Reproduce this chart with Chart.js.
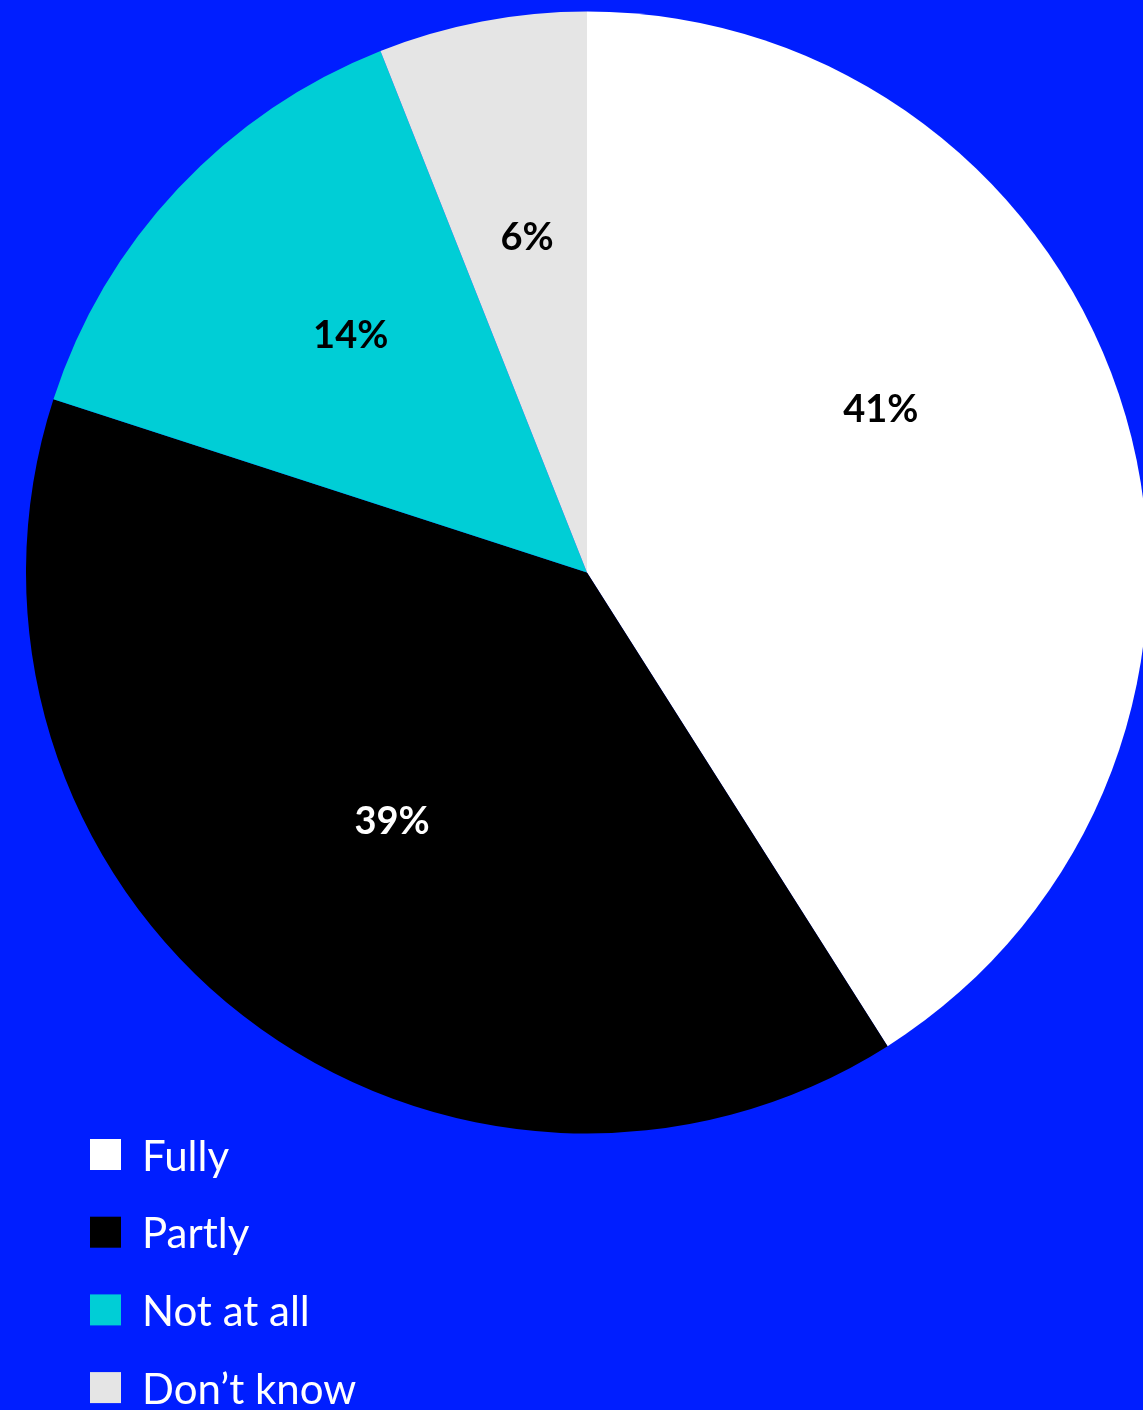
<!DOCTYPE html>
<html>
<head>
<meta charset="utf-8">
<script src="https://cdn.jsdelivr.net/npm/chart.js@4"></script>
<style>
  html, body { margin: 0; padding: 0; background: #001EFF; overflow: hidden; }
  canvas { display: block; }
</style>
</head>
<body>
<canvas id="pieChart" width="1160" height="1410"></canvas>
<script>
const labels = ["Fully", "Partly", "Not at all", "Don\u2019t know"];
const values = [41, 39, 14, 6];
const colors = ["#FFFFFF", "#000000", "#00CED6", "#E5E5E5"];
const labelColors = ["#000000", "#FFFFFF", "#000000", "#000000"];

// percent labels inside the slices
const sliceLabels = {
  id: "sliceLabels",
  afterDatasetsDraw(chart) {
    const ctx = chart.ctx;
    const meta = chart.getDatasetMeta(0);
    // small nudges so the labels sit where the original put them
    const nudge = [[-24, -70], [8, -12], [5, -10], [2, -10]];
    ctx.save();
    ctx.font = "bold 38px Lato";
    ctx.textAlign = "center";
    ctx.textBaseline = "middle";
    meta.data.forEach(function (arc, i) {
      const p = arc.getProps(["x", "y", "startAngle", "endAngle", "outerRadius"], true);
      const mid = (p.startAngle + p.endAngle) / 2;
      const r = p.outerRadius * 0.59;
      ctx.fillStyle = labelColors[i];
      ctx.fillText(values[i] + "%", p.x + Math.cos(mid) * r + nudge[i][0], p.y + Math.sin(mid) * r + nudge[i][1]);
    });
    ctx.restore();
  },
};

// legend drawn as a list under the pie
const listLegend = {
  id: "listLegend",
  afterDraw(chart) {
    const ctx = chart.ctx;
    ctx.save();
    ctx.font = "42px Lato";
    ctx.textBaseline = "middle";
    chart.data.labels.forEach(function (label, i) {
      const y = 1139 + i * 77.7;
      ctx.fillStyle = chart.data.datasets[0].backgroundColor[i];
      ctx.fillRect(90, y, 31, 31);
      ctx.fillStyle = "#FFFFFF";
      ctx.fillText(label, 142, y + 18);
    });
    ctx.restore();
  },
};

new Chart(document.getElementById("pieChart").getContext("2d"), {
  type: "pie",
  data: {
    labels: labels,
    datasets: [
      {
        data: values,
        backgroundColor: colors,
        borderWidth: 0,
      },
    ],
  },
  options: {
    responsive: false,
    devicePixelRatio: 1,
    animation: false,
    layout: { padding: { left: 26, right: 12, top: 11, bottom: 276 } },
    plugins: {
      legend: { display: false },
      tooltip: { enabled: false },
    },
  },
  plugins: [sliceLabels, listLegend],
});
</script>
</body>
</html>
